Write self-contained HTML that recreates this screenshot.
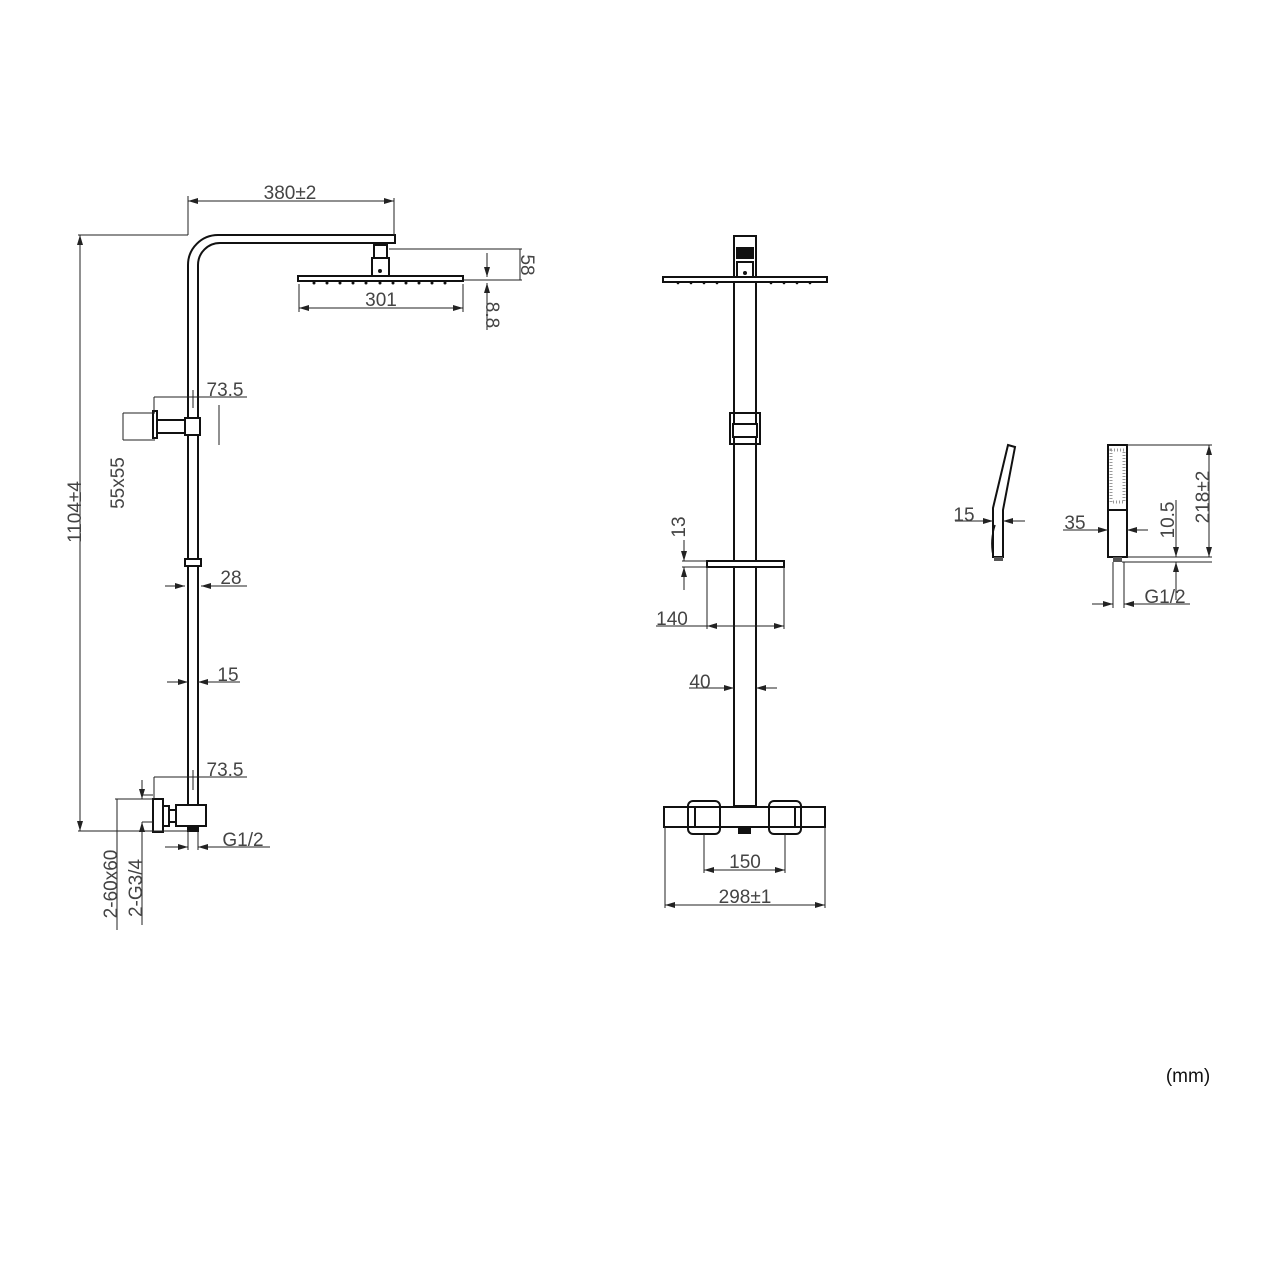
<!DOCTYPE html>
<html><head><meta charset="utf-8"><style>
html,body{margin:0;padding:0;background:#fff}
svg{display:block}
text{font-family:"Liberation Sans",sans-serif;font-size:19px;fill:#444}
</style></head><body>
<svg width="1280" height="1280" viewBox="0 0 1280 1280" xmlns="http://www.w3.org/2000/svg">
<defs>
<marker id="a" viewBox="0 0 10 6" refX="10" refY="3" markerWidth="10" markerHeight="6" orient="auto-start-reverse" markerUnits="userSpaceOnUse"><path d="M0,0L10,3L0,6z" fill="#222"/></marker>
</defs>
<g fill="none" stroke="#111" stroke-width="2">
<!-- LEFT VIEW -->
<path d="M188,832 V265 A30,30 0 0 1 218,235 H395 V243 H220 A22,22 0 0 0 198,265 V832"/>
<rect x="374" y="245" width="13" height="13"/>
<rect x="372" y="258" width="17" height="18"/>
<rect x="298" y="276" width="165" height="5"/>
<rect x="185" y="418" width="15" height="17" fill="#fff"/>
<rect x="153" y="411" width="4" height="27"/>
<path d="M157,420 H186 M157,433 H186"/>
<rect x="185" y="559" width="16" height="7" fill="#fff"/>
<rect x="176" y="805" width="30" height="21" fill="#fff"/>
<rect x="153" y="799" width="10" height="33"/>
<rect x="163" y="806" width="6" height="20"/>
<rect x="169" y="810" width="7" height="12"/>
<rect x="188" y="826" width="10" height="5" fill="#111"/>
<!-- MIDDLE VIEW -->
<rect x="734" y="236" width="22" height="570"/>
<rect x="737" y="248" width="16" height="10" fill="#111"/>
<rect x="737" y="262" width="16" height="15"/>
<rect x="663" y="277" width="164" height="5" fill="#fff"/>
<rect x="730" y="413" width="30" height="31"/>
<rect x="733" y="424" width="24" height="13" fill="#fff"/>
<rect x="707" y="561" width="77" height="6" fill="#fff"/>
<rect x="664" y="807" width="161" height="20" fill="#fff"/>
<path d="M695,807 V827 M795,807 V827"/>
<rect x="688" y="801" width="32" height="33" rx="5" fill="none"/>
<rect x="769" y="801" width="32" height="33" rx="5" fill="none"/>
<rect x="739" y="827" width="11" height="6" fill="#111"/>
<!-- RIGHT VIEWS -->
<path d="M1008,445 L1015,447 L1003,510 V557 H993 V508 Z"/>
<path d="M995,525 Q990,540 993,555" stroke-width="1.5"/>
<rect x="994" y="557" width="9" height="4" fill="#555" stroke="none"/>
<rect x="1108" y="445" width="19" height="112"/>
<path d="M1108,510 H1127"/>
<rect x="1113" y="557" width="9" height="5" fill="#555" stroke="none"/>
</g>
<g fill="#111">
<circle cx="314" cy="283" r="1.5"/><circle cx="327" cy="283" r="1.5"/><circle cx="340" cy="283" r="1.5"/><circle cx="353" cy="283" r="1.5"/><circle cx="366" cy="283" r="1.5"/><circle cx="380" cy="283" r="1.5"/><circle cx="393" cy="283" r="1.5"/><circle cx="406" cy="283" r="1.5"/><circle cx="419" cy="283" r="1.5"/><circle cx="432" cy="283" r="1.5"/><circle cx="445" cy="283" r="1.5"/>
<circle cx="380" cy="271" r="2"/><circle cx="745" cy="273" r="2"/>
<circle cx="678" cy="283" r="1.3"/><circle cx="691" cy="283" r="1.3"/><circle cx="704" cy="283" r="1.3"/><circle cx="717" cy="283" r="1.3"/><circle cx="771" cy="283" r="1.3"/><circle cx="784" cy="283" r="1.3"/><circle cx="797" cy="283" r="1.3"/><circle cx="810" cy="283" r="1.3"/>
</g>
<rect x="1111" y="450" width="13" height="52" fill="none" stroke="#999" stroke-width="3" stroke-dasharray="1 2"/>
<!-- DIMENSIONS -->
<g fill="none" stroke="#222" stroke-width="1">
<path d="M78,235 H188 M78,831 H190"/>
<path d="M80,235 V831" marker-start="url(#a)" marker-end="url(#a)"/>
<path d="M188,196 V235 M394,198 V235"/>
<path d="M188,201 H394" marker-start="url(#a)" marker-end="url(#a)"/>
<path d="M299,284 V312 M463,284 V312"/>
<path d="M299,308 H463" marker-start="url(#a)" marker-end="url(#a)"/>
<path d="M389,249 H522 M463,280 H522 M520,249 V280"/>
<path d="M487,253 V277" marker-end="url(#a)"/>
<path d="M487,330 V283" marker-end="url(#a)"/>
<path d="M154,397 V413 M193,390 V408 M154,397 H247"/>
<path d="M219,405 V445"/>
<path d="M123,413 H155 M123,440 H155 M123,413 V440"/>
<path d="M165,586 H185" marker-end="url(#a)"/>
<path d="M247,586 H201" marker-end="url(#a)"/>
<path d="M167,682 H188" marker-end="url(#a)"/>
<path d="M240,682 H198" marker-end="url(#a)"/>
<path d="M154,777 V799 M193,770 V790 M154,777 H247"/>
<path d="M115,799 H153 M117,799 V930"/>
<path d="M142,795 H153 M142,822 H153"/>
<path d="M142,780 V799" marker-end="url(#a)"/>
<path d="M142,925 V822" marker-end="url(#a)"/>
<path d="M188,832 V850 M198,832 V850"/>
<path d="M165,847 H188" marker-end="url(#a)"/>
<path d="M270,847 H198" marker-end="url(#a)"/>
<path d="M682,561 H707 M682,567 H707"/>
<path d="M684,540 V561" marker-end="url(#a)"/>
<path d="M684,590 V567" marker-end="url(#a)"/>
<path d="M707,567 V629 M784,567 V629 M656,626 H707"/>
<path d="M707,626 H784" marker-start="url(#a)" marker-end="url(#a)"/>
<path d="M689,688 H734" marker-end="url(#a)"/>
<path d="M777,688 H756" marker-end="url(#a)"/>
<path d="M704,834 V873 M785,834 V873"/>
<path d="M704,870 H785" marker-start="url(#a)" marker-end="url(#a)"/>
<path d="M665,827 V908 M825,827 V908"/>
<path d="M665,905 H825" marker-start="url(#a)" marker-end="url(#a)"/>
<path d="M955,521 H993" marker-end="url(#a)"/>
<path d="M1025,521 H1003" marker-end="url(#a)"/>
<path d="M1063,530 H1108" marker-end="url(#a)"/>
<path d="M1148,530 H1127" marker-end="url(#a)"/>
<path d="M1127,445 H1212 M1127,557 H1212 M1122,562 H1212"/>
<path d="M1176,500 V557" marker-end="url(#a)"/>
<path d="M1176,600 V562" marker-end="url(#a)"/>
<path d="M1209,445 V557" marker-start="url(#a)" marker-end="url(#a)"/>
<path d="M1113,562 V608 M1124,562 V608"/>
<path d="M1092,604 H1113" marker-end="url(#a)"/>
<path d="M1190,604 H1124" marker-end="url(#a)"/>
</g>
<text x="290" y="199" text-anchor="middle">380±2</text>
<text x="381" y="306" text-anchor="middle">301</text>
<text transform="translate(521,265) rotate(90)" text-anchor="middle">58</text>
<text transform="translate(486,315) rotate(90)" text-anchor="middle">8.8</text>
<text x="225" y="396" text-anchor="middle">73.5</text>
<text transform="translate(124,483) rotate(-90)" text-anchor="middle">55x55</text>
<text transform="translate(81,512) rotate(-90)" text-anchor="middle">1104±4</text>
<text x="231" y="584" text-anchor="middle">28</text>
<text x="228" y="681" text-anchor="middle">15</text>
<text x="225" y="776" text-anchor="middle">73.5</text>
<text x="243" y="846" text-anchor="middle">G1/2</text>
<text transform="translate(117,884) rotate(-90)" text-anchor="middle">2-60x60</text>
<text transform="translate(142,888) rotate(-90)" text-anchor="middle">2-G3/4</text>
<text transform="translate(685,527) rotate(-90)" text-anchor="middle">13</text>
<text x="672" y="625" text-anchor="middle">140</text>
<text x="700" y="688" text-anchor="middle">40</text>
<text x="745" y="868" text-anchor="middle">150</text>
<text x="745" y="903" text-anchor="middle">298±1</text>
<text x="964" y="521" text-anchor="middle">15</text>
<text x="1075" y="529" text-anchor="middle">35</text>
<text transform="translate(1174,520) rotate(-90)" text-anchor="middle">10.5</text>
<text transform="translate(1209,497) rotate(-90)" text-anchor="middle">218±2</text>
<text x="1165" y="603" text-anchor="middle">G1/2</text>
<text x="1188" y="1082" text-anchor="middle" style="font-size:19px;fill:#111">(mm)</text>
</svg>
</body></html>
